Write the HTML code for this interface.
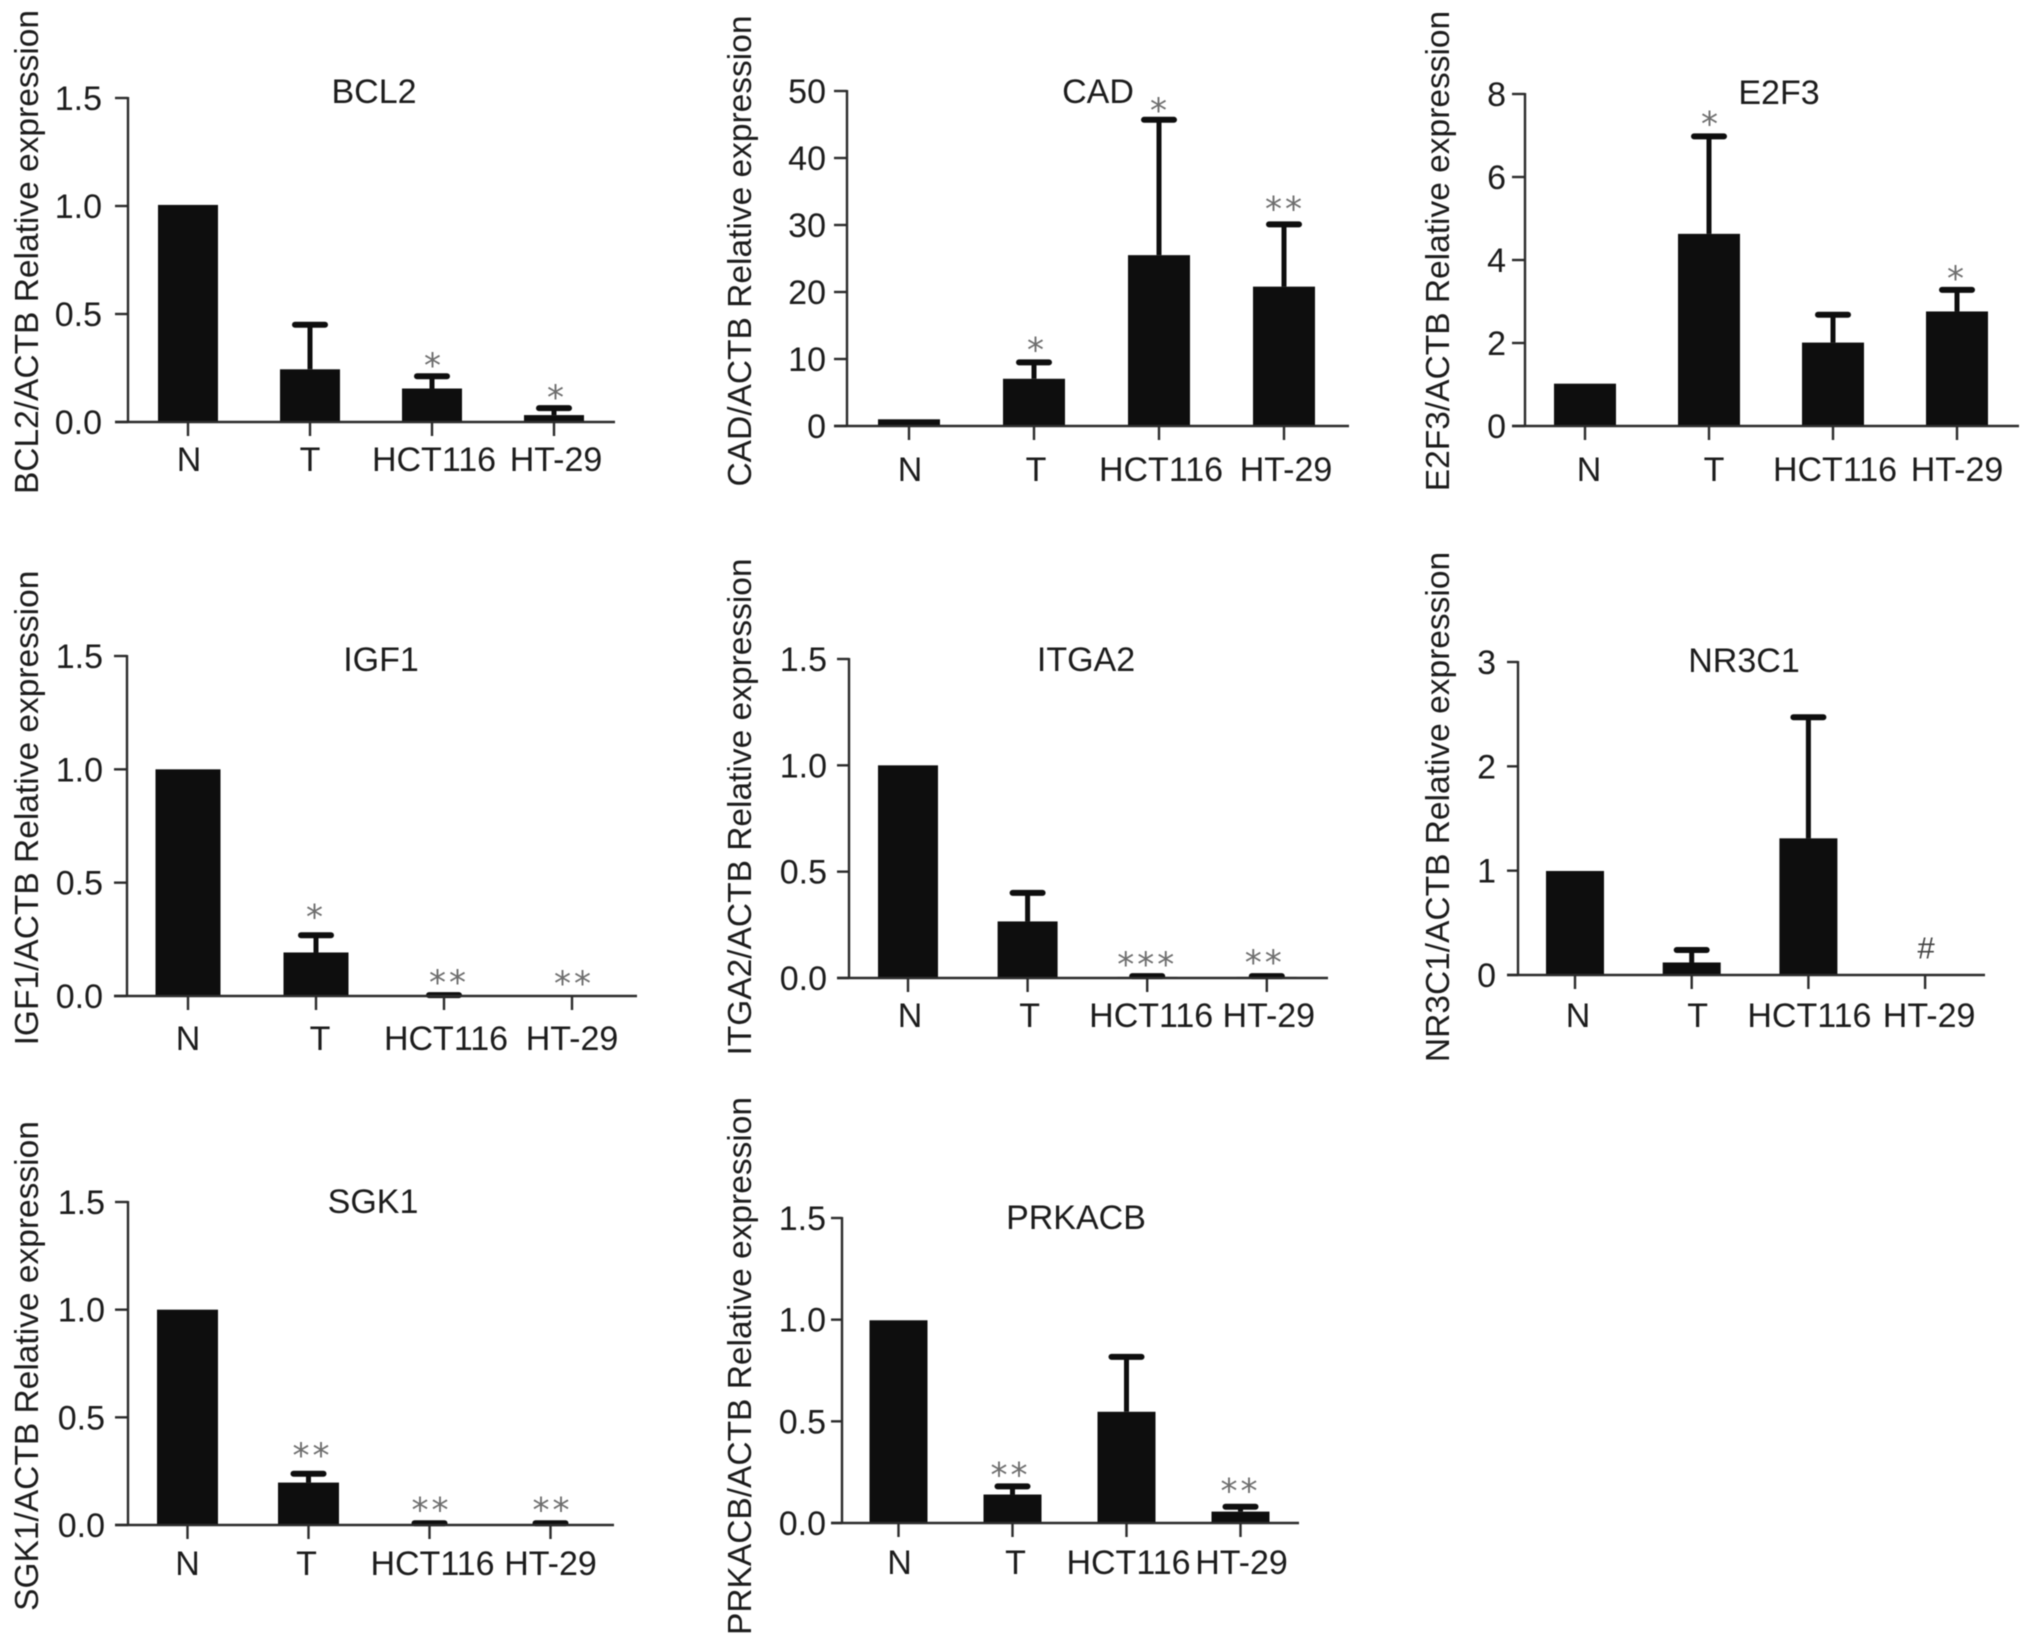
<!DOCTYPE html>
<html lang="en">
<head>
<meta charset="utf-8">
<title>Relative expression bar charts</title>
<style>
  html, body { margin: 0; padding: 0; background: #fff; }
  body { width: 2032px; height: 1645px; overflow: hidden; }
  svg { display: block; filter: blur(0.6px); }
  text { font-family: "Liberation Sans", Arial, sans-serif; font-size: 34px; fill: #1c1c1c; }
  text.y-title { font-size: 33.5px; }
</style>
</head>
<body>
<svg id="figure" width="2032" height="1645" viewBox="0 0 2032 1645" xmlns="http://www.w3.org/2000/svg">
  <rect x="0" y="0" width="2032" height="1645" fill="#fff"/>

  <g id="bcl2">
    <text x="374" y="103" text-anchor="middle">BCL2</text>
    <text class="y-title" transform="translate(38,252) rotate(-90)" text-anchor="middle">BCL2/ACTB Relative expression</text>
  </g>
  <g id="cad">
    <text x="1098" y="103" text-anchor="middle">CAD</text>
    <text class="y-title" transform="translate(751,251) rotate(-90)" text-anchor="middle">CAD/ACTB Relative expression</text>
  </g>
  <g id="e2f3">
    <text x="1779" y="104" text-anchor="middle">E2F3</text>
    <text class="y-title" transform="translate(1449,251) rotate(-90)" text-anchor="middle">E2F3/ACTB Relative expression</text>
  </g>
  <g id="igf1">
    <text x="381" y="671" text-anchor="middle">IGF1</text>
    <text class="y-title" transform="translate(38,808) rotate(-90)" text-anchor="middle">IGF1/ACTB Relative expression</text>
  </g>
  <g id="itga2">
    <text x="1086" y="671" text-anchor="middle">ITGA2</text>
    <text class="y-title" transform="translate(751,807) rotate(-90)" text-anchor="middle">ITGA2/ACTB Relative expression</text>
  </g>
  <g id="nr3c1">
    <text x="1744" y="672" text-anchor="middle">NR3C1</text>
    <text class="y-title" transform="translate(1449,807) rotate(-90)" text-anchor="middle">NR3C1/ACTB Relative expression</text>
  </g>
  <g id="sgk1">
    <text x="373" y="1213" text-anchor="middle">SGK1</text>
    <text class="y-title" transform="translate(38,1366) rotate(-90)" text-anchor="middle">SGK1/ACTB Relative expression</text>
  </g>
  <g id="prkacb">
    <text x="1076" y="1229" text-anchor="middle">PRKACB</text>
    <text class="y-title" transform="translate(751,1366) rotate(-90)" text-anchor="middle">PRKACB/ACTB Relative expression</text>
  </g>
</svg>

<script>
// ---- data ----
const categories = ['N', 'T', 'HCT116', 'HT-29'];
const ticks15 = ['0.0', '0.5', '1.0', '1.5'];
const ticksCad = ['0', '10', '20', '30', '40', '50'];
const ticksE2f3 = ['0', '2', '4', '6', '8'];
const ticksNr3c1 = ['0', '1', '2', '3'];

const bcl2Values = [1.005, 0.244, 0.155, 0.032];
const bcl2Errors = [null, 0.45, 0.212, 0.064];
const bcl2Marks = ['', '', '*', '*'];

const cadValues = [1.0, 7.05, 25.5, 20.8];
const cadErrors = [null, 9.5, 45.7, 30.1];
const cadMarks = ['', '*', '*', '**'];

const e2f3Values = [1.02, 4.63, 2.01, 2.76];
const e2f3Errors = [null, 6.98, 2.68, 3.28];
const e2f3Marks = ['', '*', '', '*'];

const igf1Values = [1.0, 0.192, 0.003, 0];
const igf1Errors = [null, 0.268, 0.004, null];
const igf1Marks = ['', '*', '**', '**'];

const itga2Values = [1.0, 0.266, 0.005, 0.005];
const itga2Errors = [null, 0.4, 0.009, 0.009];
const itga2Marks = ['', '', '***', '**'];

const nr3c1Values = [0.997, 0.12, 1.31, 0.004];
const nr3c1Errors = [null, 0.24, 2.47, null];
const nr3c1Marks = ['', '', '', '#'];

const sgk1Values = [1.0, 0.197, 0.004, 0.004];
const sgk1Errors = [null, 0.238, 0.008, 0.008];
const sgk1Marks = ['', '**', '**', '**'];

const prkacbValues = [0.997, 0.14, 0.547, 0.056];
const prkacbErrors = [null, 0.18, 0.817, 0.08];
const prkacbMarks = ['', '**', '', '**'];

// ---- panel wiring and layout ----
const panels = [
  { id: 'bcl2', values: bcl2Values, errors: bcl2Errors, marks: bcl2Marks, ticks: ticks15, max: 1.5,
    axisX: 128, top: 98, base: 422, endX: 615, tickStart: 115, labelRight: 102,
    first: 188, step: 122, barW: 60, labelY: 471, labelDx: [1, 0, 2, 2], markGap: [0, 0, 16, 16], markDx: [0, 0, 2, 3] },
  { id: 'cad', values: cadValues, errors: cadErrors, marks: cadMarks, ticks: ticksCad, max: 50,
    axisX: 847, top: 91, base: 426, endX: 1349, tickStart: 834, labelRight: 826,
    first: 909, step: 125, barW: 62, labelY: 481, labelDx: [1, 2, 2, 2], markGap: [0, 18, 15, 21], markDx: [0, 3, 1, 1] },
  { id: 'e2f3', values: e2f3Values, errors: e2f3Errors, marks: e2f3Marks, ticks: ticksE2f3, max: 8,
    axisX: 1525, top: 94, base: 426, endX: 2019, tickStart: 1512, labelRight: 1506,
    first: 1585, step: 124, barW: 62, labelY: 481, labelDx: [4, 5, 2, 0], markGap: [0, 18, 0, 17], markDx: [0, 2, 0, 0] },
  { id: 'igf1', values: igf1Values, errors: igf1Errors, marks: igf1Marks, ticks: ticks15, max: 1.5,
    axisX: 127, top: 656, base: 996, endX: 637, tickStart: 114, labelRight: 103,
    first: 188, step: 128, barW: 65, labelY: 1050, labelDx: [0, 4, 2, 0], markGap: [0, 24, 18, 18], markDx: [0, 0, 5, 2] },
  { id: 'itga2', values: itga2Values, errors: itga2Errors, marks: itga2Marks, ticks: ticks15, max: 1.5,
    axisX: 849, top: 659, base: 978, endX: 1328, tickStart: 837, labelRight: 827,
    first: 908, step: 119.6, barW: 60, labelY: 1027, labelDx: [2, 2, 4, 2], markGap: [0, 0, 17, 19], markDx: [0, 0, 0, -2] },
  { id: 'nr3c1', values: nr3c1Values, errors: nr3c1Errors, marks: nr3c1Marks, ticks: ticksNr3c1, max: 3,
    axisX: 1518, top: 662, base: 975, endX: 1985, tickStart: 1507, labelRight: 1496,
    first: 1575, step: 116.7, barW: 58, labelY: 1027, labelDx: [3, 6, 1, 4], markGap: [0, 0, 0, 27], markDx: [0, 0, 0, 1] },
  { id: 'sgk1', values: sgk1Values, errors: sgk1Errors, marks: sgk1Marks, ticks: ticks15, max: 1.5,
    axisX: 128, top: 1202, base: 1525, endX: 614, tickStart: 115, labelRight: 105,
    first: 187.5, step: 121, barW: 61, labelY: 1575, labelDx: [0, -2, 3, 0], markGap: [0, 24, 19, 19], markDx: [0, 4, 2, 2] },
  { id: 'prkacb', values: prkacbValues, errors: prkacbErrors, marks: prkacbMarks, ticks: ticks15, max: 1.5,
    axisX: 842, top: 1218, base: 1523, endX: 1299, tickStart: 831, labelRight: 826,
    first: 898.5, step: 114, barW: 58, labelY: 1574, labelDx: [1, 3, 2, 1], markGap: [0, 17, 0, 21], markDx: [0, -2, 0, 0] }
];

const NS = 'http://www.w3.org/2000/svg';
const AXIS = '#2b2b2b';
const BAR = '#0e0e0e';

function make(parent, tag, attrs, content) {
  const el = document.createElementNS(NS, tag);
  for (const k in attrs) el.setAttribute(k, attrs[k]);
  if (content !== undefined) el.textContent = content;
  parent.appendChild(el);
  return el;
}

function drawPanel(p) {
  const g = document.getElementById(p.id);
  const yScale = v => p.base - (v / p.max) * (p.base - p.top);
  const xScale = i => p.first + i * p.step;
  const tickValue = i => p.max * i / (p.ticks.length - 1);

  const yAxis = make(g, 'line', { x1: p.axisX, x2: p.axisX, y1: yScale(p.max) - 1, y2: p.base, stroke: AXIS, 'stroke-width': 2.4 });
  
  

  p.ticks.forEach((label, i) => {
    const y = yScale(tickValue(i));
    const tick = make(g, 'line', { x1: p.tickStart, x2: p.axisX, y1: y, y2: y, stroke: AXIS, 'stroke-width': 2.4 });
    
    
    const text = make(g, 'text', { x: p.labelRight, y: y + 12, 'text-anchor': 'end' }, label);
    
    
  });

  categories.forEach((cat, i) => {
    const cx = xScale(i);
    const v = p.values[i];
    const e = p.errors[i];

    const bar = make(g, 'rect', { x: cx - p.barW / 2, y: yScale(v), width: p.barW, height: p.base - yScale(v), fill: BAR });
    
    

    if (e !== null) {
      const stem = make(g, 'line', { x1: cx, x2: cx, y1: yScale(e), y2: yScale(v), stroke: BAR, 'stroke-width': 5 });
      
      
      const cap = make(g, 'line', { x1: cx - 15, x2: cx + 15, y1: yScale(e), y2: yScale(e), stroke: BAR, 'stroke-width': 6, 'stroke-linecap': 'round' });
      
      
    }

    const tick = make(g, 'line', { x1: cx, x2: cx, y1: p.base, y2: p.base + 14, stroke: AXIS, 'stroke-width': 2.4 });
    
    

    const label = make(g, 'text', { x: cx + p.labelDx[i], y: p.labelY, 'text-anchor': 'middle' }, cat);
    
    

    if (p.marks[i]) {
      const ref = yScale(e === null ? v : e);
      const centre = ref - p.markGap[i];
      const isHash = p.marks[i] === '#';
      const mark = make(g, 'text', {
        x: cx + p.markDx[i],
        y: centre + (isHash ? 11 : 17),
        'text-anchor': 'middle',
        style: isHash
          ? 'font-size:31px;fill:#444'
          : 'font-family:"DejaVu Sans",sans-serif;font-size:34px;letter-spacing:3px;fill:#6e6e6e'
      }, p.marks[i]);
      
      
    }
  });

  const xAxis = make(g, 'line', { x1: p.tickStart, x2: p.endX, y1: p.base, y2: p.base, stroke: AXIS, 'stroke-width': 2.4 });
  
  
}

panels.forEach(drawPanel);
</script>
</body>
</html>
